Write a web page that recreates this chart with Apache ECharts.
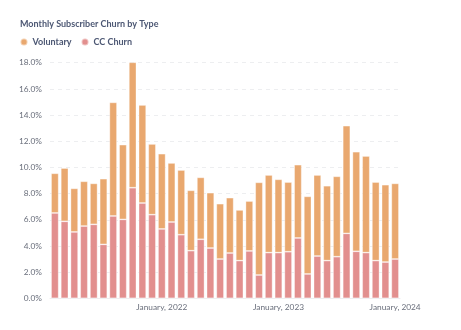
<!DOCTYPE html>
<html>
<head>
<meta charset="utf-8">
<script src="https://cdn.jsdelivr.net/npm/echarts@6/dist/echarts.min.js"></script>
<style>
html,body{margin:0;padding:0;background:#fff;}
#c{width:461px;height:330px;}
</style>
</head>
<body>
<div id="c"></div>
<script>
const months = [
  "February, 2021","March, 2021","April, 2021","May, 2021","June, 2021","July, 2021",
  "August, 2021","September, 2021","October, 2021","November, 2021","December, 2021",
  "January, 2022","February, 2022","March, 2022","April, 2022","May, 2022","June, 2022",
  "July, 2022","August, 2022","September, 2022","October, 2022","November, 2022","December, 2022",
  "January, 2023","February, 2023","March, 2023","April, 2023","May, 2023","June, 2023",
  "July, 2023","August, 2023","September, 2023","October, 2023","November, 2023","December, 2023",
  "January, 2024"
];
const ccChurn = [
  6.52,5.88,5.07,5.52,5.65,4.12,6.29,6.03,8.45,7.28,6.39,5.30,
  5.83,4.86,3.64,4.51,3.84,3.00,3.46,2.88,3.62,1.78,3.49,3.49,
  3.56,4.61,1.86,3.23,2.88,3.18,4.96,3.59,3.49,2.88,2.77,3.00
];
const voluntary = [
  3.03,4.07,3.33,3.42,3.13,5.02,8.68,5.71,9.65,7.49,5.40,5.75,
  4.51,4.94,4.61,4.73,4.23,4.23,4.23,3.87,3.81,7.08,5.93,5.60,
  5.32,5.60,5.93,6.19,5.72,6.14,8.23,7.61,7.38,6.00,5.91,5.78
];
const yTicks = { min: 0, max: 18, interval: 2 };

const chart = echarts.init(document.getElementById('c'), null, {renderer:'canvas'});
const font = 'Lato, "Open Sans", sans-serif';
chart.setOption({
  animation: false,
  backgroundColor: '#ffffff',
  title: {
    text: 'Monthly Subscriber Churn by Type',
    left: 20, top: 20, padding: 0,
    textStyle: { fontFamily: font, fontSize: 9, fontWeight: 'bold', color: '#4C5773' }
  },
  legend: {
    left: 19.5, top: 37.5, padding: 0,
    icon: 'circle', itemWidth: 7, itemHeight: 7, itemGap: 9,
    data: ['Voluntary', 'CC Churn'],
    textStyle: { fontFamily: font, fontSize: 9, fontWeight: 'bold', color: '#4C5773', padding: [0,0,0,0] }
  },
  grid: { left: 50, right: 61, top: 62.7, bottom: 31.7 },
  xAxis: {
    type: 'category',
    data: months,
    axisLine: { show: true, lineStyle: { color: '#EEEEF0' } },
    axisTick: { show: false },
    axisLabel: {
      interval: (i, v) => v.startsWith('January'),
      fontFamily: font, fontSize: 8.3, color: '#696E7B', margin: 5
    }
  },
  yAxis: {
    type: 'value',
    min: yTicks.min, max: yTicks.max, interval: yTicks.interval,
    axisLine: { show: false },
    axisTick: { show: false },
    splitLine: { lineStyle: { color: '#EDEEF0', type: [4, 4] } },
    axisLabel: {
      formatter: v => v.toFixed(1) + '%',
      fontFamily: font, fontSize: 8.3, color: '#696E7B', margin: 8
    }
  },
  series: [
    {
      name: 'CC Churn', type: 'bar', stack: 'churn', data: ccChurn,
      barCategoryGap: '22%',
      itemStyle: { color: '#E28F8E', borderColor: 'rgba(255,255,255,0.45)', borderWidth: 0.8 }
    },
    {
      name: 'Voluntary', type: 'bar', stack: 'churn', data: voluntary,
      barCategoryGap: '22%',
      itemStyle: { color: '#E9A86F', borderColor: 'rgba(255,255,255,0.45)', borderWidth: 0.8 }
    }
  ],
  color: ['#E28F8E', '#E9A86F']
});
</script>
</body>
</html>
